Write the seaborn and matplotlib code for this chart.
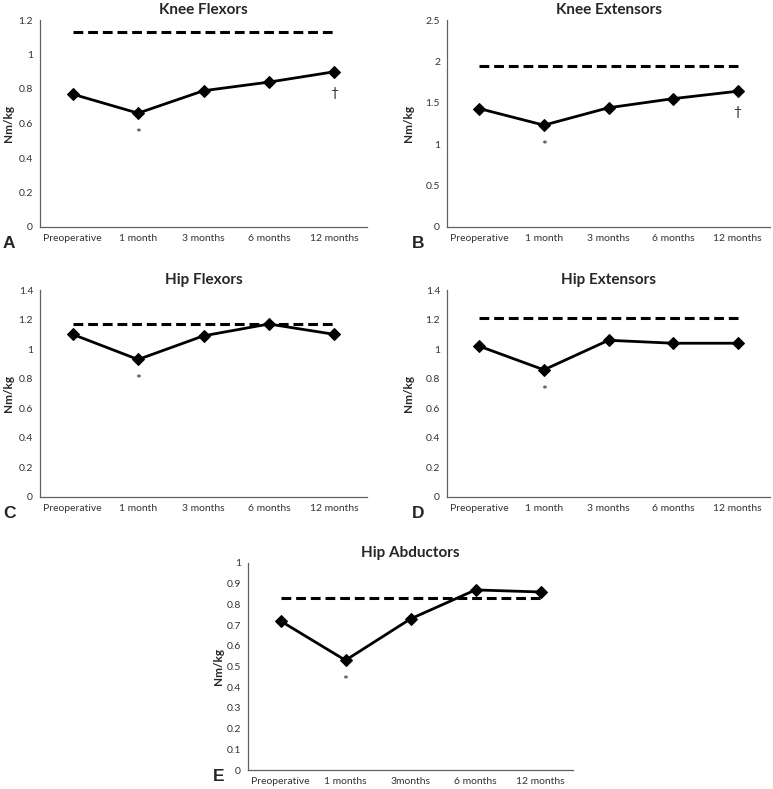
import matplotlib
matplotlib.use("Agg")
import matplotlib.pyplot as plt
import seaborn as sns
import pandas as pd

sns.set_style("white")
plt.rcParams['font.family'] = ['Lato', 'DejaVu Sans']

timepoints = ["Preoperative", "1 month", "3 months", "6 months", "12 months"]
timepoints_e = ["Preoperative", "1 months", "3months", "6 months", "12 months"]

knee_flex = [0.77, 0.66, 0.79, 0.84, 0.90]
knee_ext = [1.43, 1.23, 1.44, 1.55, 1.64]
hip_flex = [1.10, 0.93, 1.09, 1.17, 1.10]
hip_ext = [1.02, 0.86, 1.06, 1.04, 1.04]
hip_abd = [0.72, 0.53, 0.73, 0.87, 0.86]

ref_knee_flex = 1.13
ref_knee_ext = 1.95
ref_hip_flex = 1.17
ref_hip_ext = 1.21
ref_hip_abd = 0.83

W, H = 773, 789
fig = plt.figure(figsize=(W / 100, H / 100), dpi=100)

def rect(l, t, r, b):
    return [l / W, 1 - b / H, (r - l) / W, (b - t) / H]

panels = [
    dict(px=(40, 20, 367, 227), title="Knee Flexors", lab=timepoints, vals=knee_flex,
         ref=ref_knee_flex, ymax=1.2, step=0.2, letter="A", lxy=(3, 248), ylx=14,
         marks={1: "*", 4: "\u2020"}),
    dict(px=(447, 20, 770, 227), title="Knee Extensors", lab=timepoints, vals=knee_ext,
         ref=ref_knee_ext, ymax=2.5, step=0.5, letter="B", lxy=(412, 248), ylx=414,
         marks={1: "*", 4: "\u2020"}),
    dict(px=(40, 290, 367, 497), title="Hip Flexors", lab=timepoints, vals=hip_flex,
         ref=ref_hip_flex, ymax=1.4, step=0.2, letter="C", lxy=(3, 518), ylx=14,
         marks={1: "*"}),
    dict(px=(447, 290, 770, 497), title="Hip Extensors", lab=timepoints, vals=hip_ext,
         ref=ref_hip_ext, ymax=1.4, step=0.2, letter="D", lxy=(412, 518), ylx=414,
         marks={1: "*"}),
    dict(px=(248, 563, 573, 770), title="Hip Abductors", lab=timepoints_e, vals=hip_abd,
         ref=ref_hip_abd, ymax=1.0, step=0.1, letter="E", lxy=(213, 781), ylx=224,
         marks={1: "*"}),
]

for p in panels:
    l, t, r, b = p["px"]
    ax = fig.add_axes(rect(l, t, r, b))
    df = pd.DataFrame({"x": list(range(5)), "y": p["vals"]})
    dref = pd.DataFrame({"x": [0, 4], "y": [p["ref"], p["ref"]]})
    sns.lineplot(data=dref, x="x", y="y", ax=ax, color="black", lw=2.2,
                 linestyle=(0, (3.2, 1.6)))
    sns.lineplot(data=df, x="x", y="y", ax=ax, color="black", lw=2.0,
                 marker="D", markersize=6.5, markeredgecolor="black")
    ax.set_xlim(-0.5, 4.5)
    ax.set_ylim(0, p["ymax"])
    n = int(round(p["ymax"] / p["step"]))
    ticks = [round(i * p["step"], 2) for i in range(n + 1)]
    ax.set_yticks(ticks)
    ax.set_yticklabels([("%g" % tk) for tk in ticks])
    ax.set_xticks(range(5))
    ax.set_xticklabels(p["lab"])
    ax.tick_params(axis="both", length=0, labelsize=7.5, colors="#333333", pad=5)
    for s in ["top", "right"]:
        ax.spines[s].set_visible(False)
    for s in ["left", "bottom"]:
        ax.spines[s].set_color("#606060")
        ax.spines[s].set_linewidth(0.9)
    ax.set_xlabel("")
    ax.set_ylabel("Nm/kg", fontsize=8.5, fontweight="bold")
    ax.yaxis.set_label_coords((p["ylx"] - l) / (r - l), 0.5)
    ax.set_title(p["title"], fontsize=11, fontweight="bold", pad=4)
    for i, m in p["marks"].items():
        ax.annotate(m, (i, p["vals"][i]), xytext=(0, -15), textcoords="offset points",
                    ha="center", va="center", fontsize=10)
    fig.text(p["lxy"][0] / W, 1 - p["lxy"][1] / H, p["letter"], fontsize=12.5,
             fontweight="bold", family=["Liberation Sans", "DejaVu Sans"],
             va="baseline", ha="left")

fig.savefig("out.png", dpi=100)
